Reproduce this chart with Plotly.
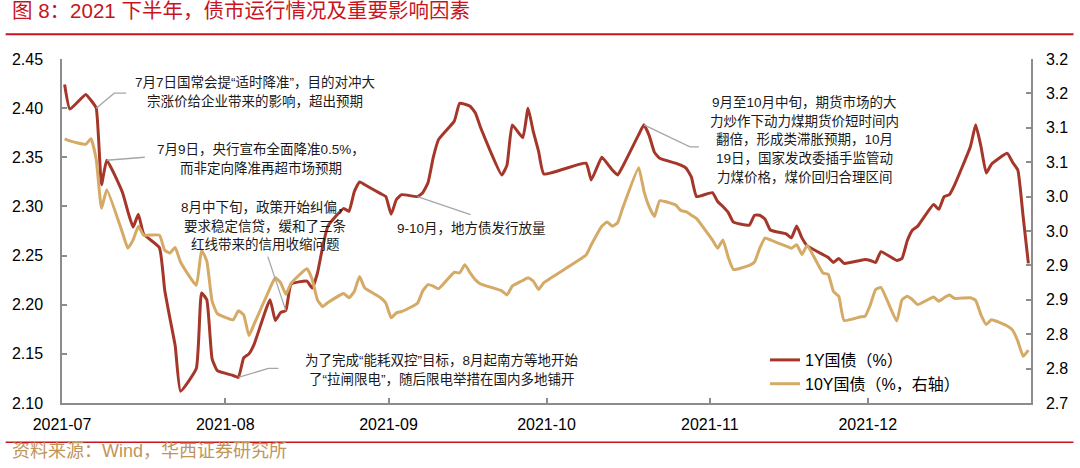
import plotly.graph_objects as go

# ---------------- data ----------------
dates = [
    "2021-07-01", "2021-07-02", "2021-07-05", "2021-07-06", "2021-07-07", "2021-07-08", "2021-07-09",
    "2021-07-12", "2021-07-13", "2021-07-14", "2021-07-15", "2021-07-16", "2021-07-19", "2021-07-20",
    "2021-07-21", "2021-07-22", "2021-07-23", "2021-07-26", "2021-07-27", "2021-07-28", "2021-07-29",
    "2021-07-30", "2021-08-02", "2021-08-03", "2021-08-04", "2021-08-05", "2021-08-06", "2021-08-09",
    "2021-08-10", "2021-08-11", "2021-08-12", "2021-08-13", "2021-08-16", "2021-08-17", "2021-08-18",
    "2021-08-19", "2021-08-20", "2021-08-23", "2021-08-24", "2021-08-25", "2021-08-26", "2021-08-27",
    "2021-08-30", "2021-08-31", "2021-09-01", "2021-09-02", "2021-09-03", "2021-09-06", "2021-09-07",
    "2021-09-08", "2021-09-09", "2021-09-10", "2021-09-13", "2021-09-14", "2021-09-15", "2021-09-16",
    "2021-09-17", "2021-09-18", "2021-09-22", "2021-09-23", "2021-09-24", "2021-09-26", "2021-09-27",
    "2021-09-28", "2021-09-29", "2021-09-30", "2021-10-08", "2021-10-09", "2021-10-11", "2021-10-12",
    "2021-10-13", "2021-10-14", "2021-10-15", "2021-10-18", "2021-10-19", "2021-10-20", "2021-10-21",
    "2021-10-22", "2021-10-25", "2021-10-26", "2021-10-27", "2021-10-28", "2021-10-29", "2021-11-01",
    "2021-11-02", "2021-11-03", "2021-11-04", "2021-11-05", "2021-11-08", "2021-11-09", "2021-11-10",
    "2021-11-11", "2021-11-12", "2021-11-15", "2021-11-16", "2021-11-17", "2021-11-18", "2021-11-19",
    "2021-11-22", "2021-11-23", "2021-11-24", "2021-11-25", "2021-11-26", "2021-11-29", "2021-11-30",
    "2021-12-01", "2021-12-02", "2021-12-03", "2021-12-06", "2021-12-07", "2021-12-08", "2021-12-09",
    "2021-12-10", "2021-12-13", "2021-12-14", "2021-12-15", "2021-12-16", "2021-12-17", "2021-12-20",
    "2021-12-21", "2021-12-22", "2021-12-23", "2021-12-24", "2021-12-27", "2021-12-28", "2021-12-29",
    "2021-12-30", "2021-12-31",
]

y1_values = [  # 1Y 国债 (%), left axis
    2.424, 2.399, 2.414, 2.408, 2.400, 2.322, 2.347,
    2.314, 2.295, 2.279, 2.292, 2.272, 2.258, 2.215,
    2.186, 2.158, 2.112, 2.135, 2.212, 2.205, 2.145,
    2.133, 2.128, 2.126, 2.146, 2.150, 2.160, 2.205,
    2.184, 2.192, 2.194, 2.221, 2.224, 2.217, 2.232,
    2.259, 2.280, 2.298, 2.295, 2.315, 2.325, 2.322,
    2.313, 2.310, 2.292, 2.307, 2.312, 2.310, 2.314,
    2.324, 2.350, 2.368, 2.387, 2.405, 2.404, 2.402,
    2.395, 2.380, 2.332, 2.342, 2.383, 2.370, 2.400,
    2.376, 2.356, 2.333, 2.344, 2.327, 2.350, 2.344,
    2.337, 2.332, 2.341, 2.373, 2.383, 2.372, 2.355,
    2.349, 2.344, 2.342, 2.339, 2.330, 2.310, 2.314,
    2.305, 2.300, 2.294, 2.284, 2.281, 2.291, 2.291,
    2.287, 2.276, 2.272, 2.268, 2.280, 2.268, 2.260,
    2.251, 2.248, 2.243, 2.247, 2.242, 2.245, 2.246,
    2.245, 2.243, 2.254, 2.245, 2.247, 2.265, 2.276,
    2.280, 2.302, 2.297, 2.310, 2.312, 2.322, 2.361,
    2.383, 2.361, 2.334, 2.343, 2.354, 2.345, 2.337,
    2.290, 2.242,
]

y10_values = [  # 10Y 国债 (%), right axis
    3.084, 3.081, 3.076, 3.084, 3.054, 2.983, 3.010,
    2.947, 2.925, 2.937, 2.957, 2.944, 2.944, 2.922,
    2.918, 2.926, 2.905, 2.871, 2.922, 2.906, 2.848,
    2.830, 2.821, 2.834, 2.828, 2.798, 2.815, 2.867,
    2.882, 2.875, 2.858, 2.874, 2.895, 2.880, 2.850,
    2.840, 2.846, 2.859, 2.853, 2.862, 2.884, 2.867,
    2.853, 2.845, 2.824, 2.831, 2.833, 2.845, 2.863,
    2.872, 2.870, 2.866, 2.890, 2.889, 2.901, 2.889,
    2.879, 2.873, 2.863, 2.857, 2.870, 2.878, 2.882,
    2.877, 2.865, 2.875, 2.915, 2.930, 2.957, 2.963,
    2.957, 2.962, 2.984, 3.042, 3.008, 2.985, 2.971,
    2.994, 2.988, 2.980, 2.978, 2.973, 2.968, 2.937,
    2.925, 2.937, 2.912, 2.894, 2.900, 2.905, 2.925,
    2.940, 2.937, 2.928, 2.925, 2.930, 2.916, 2.929,
    2.889, 2.887, 2.862, 2.855, 2.820, 2.825, 2.826,
    2.843, 2.865, 2.868, 2.819, 2.850, 2.855, 2.850,
    2.843, 2.854, 2.848, 2.853, 2.857, 2.852, 2.853,
    2.849, 2.828, 2.814, 2.821, 2.812, 2.806, 2.790,
    2.768, 2.777,
]

series_names = ["1Y国债（%）", "10Y国债（%，右轴）"]

left_tickvals = [2.10, 2.15, 2.20, 2.25, 2.30, 2.35, 2.40, 2.45]
left_ticktext = ["2.10", "2.15", "2.20", "2.25", "2.30", "2.35", "2.40", "2.45"]
right_tickvals = [2.70, 2.75, 2.80, 2.85, 2.90, 2.95, 3.00, 3.05, 3.10, 3.15, 3.20]
right_ticktext = ["2.7", "2.8", "2.8", "2.9", "2.9", "3.0", "3.0", "3.1", "3.1", "3.2", "3.2"]
month_tickvals = ["2021-06-30 12:00", "2021-07-31 12:00", "2021-08-31 12:00",
                  "2021-09-30 12:00", "2021-10-31 12:00", "2021-11-30 12:00"]
month_ticktext = ["2021-07", "2021-08", "2021-09", "2021-10", "2021-11", "2021-12"]

title_text = "图 8：2021 下半年，债市运行情况及重要影响因素"
source_text = "资料来源：Wind，华西证券研究所"

# ---------------- styling ----------------
W, H = 1080, 468
L, R, T, B = 57, 43, 59, 65
PW, PH = W - L - R, H - T - B
RED = "#A5372A"
TAN = "#D4AA66"
AXIS = "#8C8C8C"
TITLE_RED = "#C8141E"
LEADER = "#A6A6A6"
FONT = "Liberation Sans, Arial, Noto Sans CJK SC"


def px(x):
    return (x - L) / PW


def py(y):
    return (H - B - y) / PH


fig = go.Figure()
fig.add_trace(go.Scatter(x=dates, y=y1_values, name=series_names[0], mode="lines",
                         line=dict(color=RED, width=3, shape="spline", smoothing=0.4)))
fig.add_trace(go.Scatter(x=dates, y=y10_values, name=series_names[1], mode="lines", yaxis="y2",
                         line=dict(color=TAN, width=3, shape="spline", smoothing=0.4)))

axis_common = dict(showline=True, linecolor=AXIS, linewidth=1.5, ticks="inside", ticklen=5,
                   tickcolor=AXIS, tickwidth=1.5, showgrid=False, zeroline=False,
                   tickfont=dict(family=FONT, size=16, color="#000000"))

fig.update_layout(
    width=W, height=H, autosize=False,
    margin=dict(l=L, r=R, t=T, b=B),
    paper_bgcolor="white", plot_bgcolor="white",
    showlegend=True,
    legend=dict(x=px(768), y=py(343), xanchor="left", yanchor="top",
                bgcolor="rgba(0,0,0,0)", font=dict(family=FONT, size=16, color="#000000"),
                tracegroupgap=0),
    xaxis=dict(type="date", range=["2021-06-30 12:00", "2021-12-31 12:00"],
               tickvals=month_tickvals, ticktext=month_ticktext, ticklabelstandoff=6,
               **axis_common),
    yaxis=dict(range=[2.10, 2.45], tickvals=left_tickvals, ticktext=left_ticktext,
               ticklabelstandoff=14, **axis_common),
    yaxis2=dict(range=[2.70, 3.20], tickvals=right_tickvals, ticktext=right_ticktext,
                overlaying="y", side="right", ticklabelstandoff=10, **axis_common),
)

# title, source and the two red rules
fig.add_annotation(text=title_text, xref="paper", yref="paper", x=px(4), y=py(11),
                   xanchor="left", yanchor="middle", showarrow=False,
                   font=dict(family=FONT, size=20.5, color=TITLE_RED))
fig.add_annotation(text=source_text, xref="paper", yref="paper", x=px(4), y=py(451),
                   xanchor="left", yanchor="middle", showarrow=False,
                   font=dict(family=FONT, size=18, color="#BF955A"))
for yline, wline in ((34.3, 2), (442.3, 1.6)):
    fig.add_shape(type="line", xref="paper", yref="paper", x0=px(0), x1=px(W),
                  y0=py(yline), y1=py(yline), line=dict(color=TITLE_RED, width=wline))

# annotation text blocks (one annotation per line)
ANN_FONT = dict(family="Liberation Sans, Noto Sans CJK SC", size=13.5, color="#1A1A1A")
blocks = [
    (["7月7日国常会提“适时降准”，目的对冲大", "宗涨价给企业带来的影响，超出预期"], 252, [82, 101]),
    (["7月9日，央行宣布全面降准0.5%，", "而非定向降准再超市场预期"], 258, [149, 168]),
    (["8月中下旬，政策开始纠偏，", "要求稳定信贷，缓和了三条", "红线带来的信用收缩问题"], 263, [207, 225.5, 244]),
    (["为了完成“能耗双控”目标，8月起南方等地开始", "了“拉闸限电”，随后限电举措在国内多地铺开"], 441, [360, 379]),
    (["9-10月，地方债发行放量"], 471, [228]),
    (["9月至10月中旬，期货市场的大", "力炒作下动力煤期货价短时间内", "翻倍，形成类滞胀预期，10月",
      "19日，国家发改委插手监管动", "力煤价格，煤价回归合理区间"], 808, [102, 121, 139.5, 158, 177]),
]
for lines, cx, ys in blocks:
    for txt, yy in zip(lines, ys):
        fig.add_annotation(text=txt, xref="paper", yref="paper", x=px(cx), y=py(yy),
                           xanchor="center", yanchor="middle", showarrow=False, font=ANN_FONT)


# leader lines anchored at data points (pixel offsets, y up)
def leader(date, series, path):
    val = series[dates.index(date)]
    fig.add_shape(type="path", xref="x", yref="y", xsizemode="pixel", ysizemode="pixel",
                  xanchor=date, yanchor=val, path=path, line=dict(color=LEADER, width=1.3))


leader("2021-07-07", y1_values, "M0,0 L18,15 L30,15")
leader("2021-07-09", y1_values, "M0,0 L38,3")
leader("2021-08-12", y1_values, "M0,0 L-18,54")
leader("2021-08-03", y1_values, "M0,0 L30,9 L40,9")
leader("2021-09-06", y1_values, "M0,0 L53,-18")
leader("2021-10-19", y1_values, "M0,0 L46,-22 L55,-22")

fig.write_html("out.html", config={"displayModeBar": False},
               post_script="document.body.style.margin='0px';")
